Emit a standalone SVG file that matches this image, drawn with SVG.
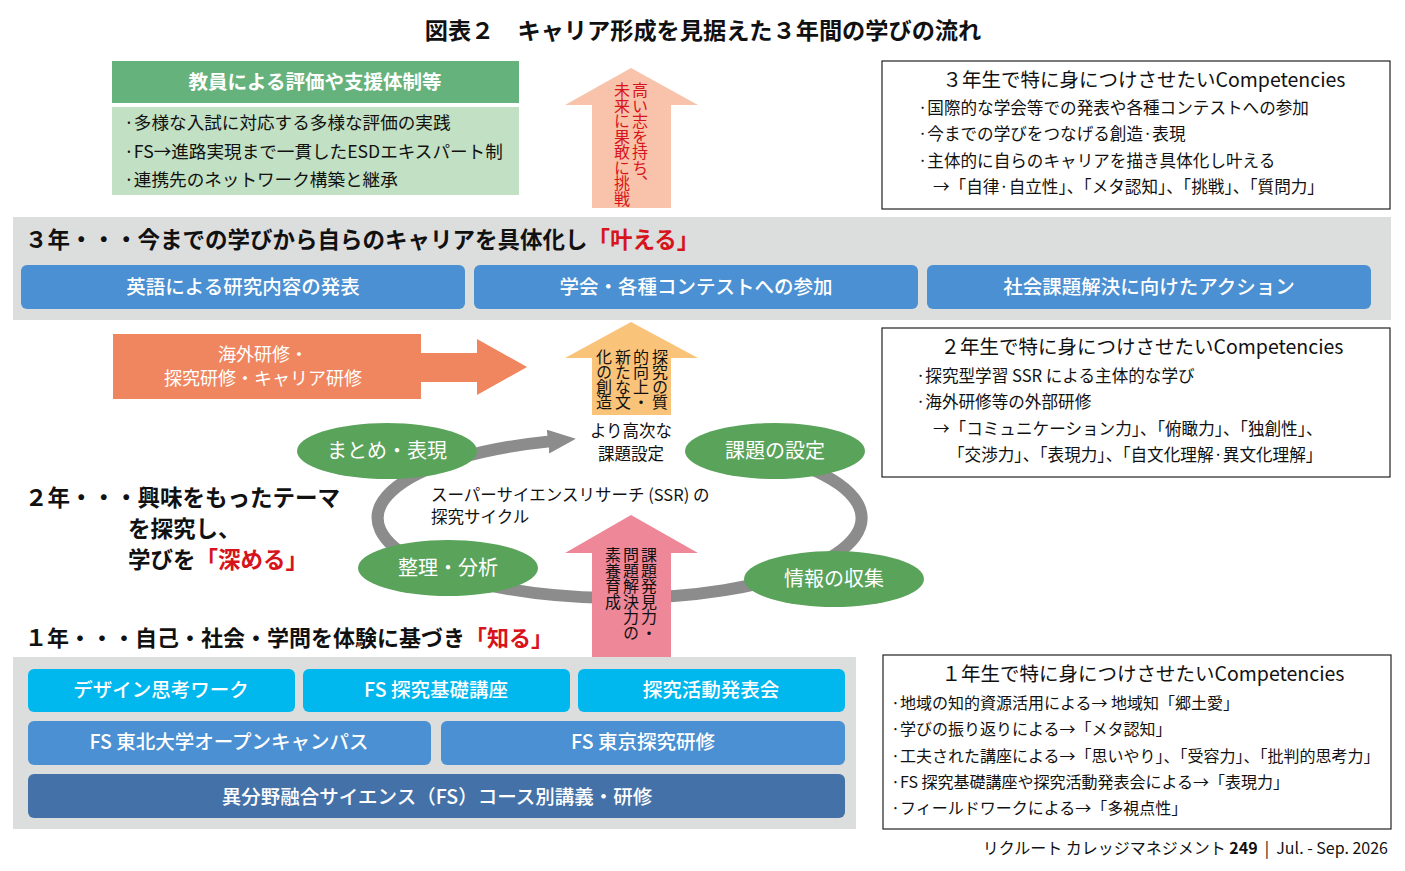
<svg xmlns="http://www.w3.org/2000/svg" width="1405" height="871" viewBox="0 0 1405 871">
<defs>
<style>
text { font-family: "Noto Sans CJK JP", "Noto Sans", sans-serif; fill: #111; }
.w { fill: #fff; }
.red { fill: #d7141c; }
.c { text-anchor: middle; }
.v { writing-mode: vertical-rl; }
.box { fill: #fff; stroke: #222; stroke-width: 1.2; }
.band { fill: #dcdddd; }
.blue { fill: #4a90d2; }
.cyan { fill: #00b7ee; }
.dblue { fill: #4472a8; }
.gell { fill: #5aa35a; }
.h23 { font-size: 22.5px; font-weight: bold; }
.t16 { font-size: 16.6px; }
.t15 { font-size: 16px; }
.t20 { font-size: 19.5px; }
.btn { font-size: 19.5px; font-weight: 500; }
</style>
<marker id="ah" markerUnits="userSpaceOnUse" markerWidth="30" markerHeight="26" refX="2" refY="12" orient="auto">
<path d="M0,0 L28,12 L0,24 z" fill="#8c8c8c"/>
</marker>
</defs>
<rect width="1405" height="871" fill="#fff"/>

<g id="title">
<text x="703" y="39" class="c" style="font-size:23.2px;font-weight:bold">図表２　キャリア形成を見据えた３年間の学びの流れ</text>
</g>

<g id="support">
<rect x="112" y="61" width="407" height="42" fill="#66b27c"/>
<text x="315" y="89" class="c w" style="font-size:19.5px;font-weight:bold">教員による評価や支援体制等</text>
<rect x="112" y="107" width="407" height="88" fill="#c2e0c4"/>
<text x="124" y="129" style="font-size:17.6px">·多様な入試に対応する多様な評価の実践</text>
<text x="124" y="158" style="font-size:17.6px">·FS→進路実現まで一貫したESDエキスパート制</text>
<text x="124" y="186" style="font-size:17.6px">·連携先のネットワーク構築と継承</text>
</g>

<g id="arrow-top">
<polygon points="631,68 698,105 671,105 671,208 592,208 592,105 565,105" fill="#f8c3aa"/>
<text x="640" y="82" class="v red" style="font-size:16px;letter-spacing:-0.5px">高い志を持ち、</text>
<text x="622" y="82" class="v red" style="font-size:16px;letter-spacing:-0.5px">未来に果敢に挑戦</text>
</g>

<g id="comp3">
<rect x="882" y="61" width="508" height="148" class="box"/>
<text x="1144" y="87" class="c t20">３年生で特に身につけさせたいCompetencies</text>
<text x="918" y="114" class="t16">·国際的な学会等での発表や各種コンテストへの参加</text>
<text x="918" y="140" class="t16">·今までの学びをつなげる創造·表現</text>
<text x="918" y="167" class="t16">·主体的に自らのキャリアを描き具体化し叶える</text>
<text x="933" y="193" class="t16">→「自律·自立性」、「メタ認知」、「挑戦」、「質問力」</text>
</g>

<g id="year3">
<rect x="13" y="217" width="1378" height="103" class="band"/>
<text x="25" y="248" class="h23">３年・・・今までの学びから自らのキャリアを具体化し<tspan class="red">「叶える」</tspan></text>
</g>
<g id="y3-b1"><rect x="21" y="265" width="444" height="44" rx="6" class="blue"/><text x="243" y="294" class="c w btn">英語による研究内容の発表</text></g>
<g id="y3-b2"><rect x="474" y="265" width="444" height="44" rx="6" class="blue"/><text x="696" y="294" class="c w btn">学会・各種コンテストへの参加</text></g>
<g id="y3-b3"><rect x="927" y="265" width="444" height="44" rx="6" class="blue"/><text x="1149" y="294" class="c w btn">社会課題解決に向けたアクション</text></g>

<g id="arrow-training">
<polygon points="113,334 421,334 421,353 477,353 477,339 527,367 477,395 477,382 421,382 421,399 113,399" fill="#f0865f"/>
<text x="263" y="361" class="c w" style="font-size:18px">海外研修・</text>
<text x="263" y="385" class="c w" style="font-size:18px">探究研修・キャリア研修</text>
</g>

<g id="arrow-mid">
<polygon points="631,322 698,358 671,358 671,415 592,415 592,358 565,358" fill="#f9c37a"/>
<text x="660" y="349" class="v" style="font-size:16px;letter-spacing:-1px">探究の質</text>
<text x="641" y="349" class="v" style="font-size:16px;letter-spacing:-1px">的向上・</text>
<text x="623" y="349" class="v" style="font-size:16px;letter-spacing:-1px">新たな文</text>
<text x="604" y="349" class="v" style="font-size:16px;letter-spacing:-1px">化の創造</text>
<text x="631" y="437" class="c" style="font-size:16.5px">より高次な</text>
<text x="631" y="460" class="c" style="font-size:16.5px">課題設定</text>
</g>

<g id="comp2">
<rect x="882" y="328" width="508" height="149" class="box"/>
<text x="1142" y="354" class="c t20">２年生で特に身につけさせたいCompetencies</text>
<text x="916" y="382" class="t16">·探究型学習 SSR による主体的な学び</text>
<text x="916" y="408" class="t16">·海外研修等の外部研修</text>
<text x="933" y="435" class="t16">→「コミュニケーション力」、「俯瞰力」、「独創性」、</text>
<text x="948" y="461" class="t16">「交渉力」、「表現力」、「自文化理解·異文化理解」</text>
</g>

<g id="connectors">
<path d="M710,443.8 A242,80 0 1 1 550,441.4" fill="none" stroke="#8c8c8c" stroke-width="12" marker-end="url(#ah)"/>
</g>

<g id="cycle-label">
<text x="431" y="501" style="font-size:16.5px">スーパーサイエンスリサーチ (SSR) の</text>
<text x="431" y="523" style="font-size:16.5px">探究サイクル</text>
</g>

<g id="arrow-low">
<polygon points="631,515 698,553 671,553 671,657 592,657 592,553 565,553" fill="#ee8798"/>
<text x="649" y="547" class="v" style="font-size:16px;letter-spacing:-0.5px">課題発見力・</text>
<text x="631" y="547" class="v" style="font-size:16px;letter-spacing:-0.5px">問題解決力の</text>
<text x="613" y="547" class="v" style="font-size:16px;letter-spacing:-0.5px">素養育成</text>
</g>

<g id="n-matome"><ellipse cx="387" cy="451" rx="90" ry="28" class="gell"/><text x="387" y="458" class="c w" style="font-size:20px">まとめ・表現</text></g>
<g id="n-kadai"><ellipse cx="775" cy="451" rx="90" ry="28" class="gell"/><text x="775" y="458" class="c w" style="font-size:20px">課題の設定</text></g>
<g id="n-seiri"><ellipse cx="448" cy="568" rx="90" ry="28" class="gell"/><text x="448" y="575" class="c w" style="font-size:20px">整理・分析</text></g>
<g id="n-joho"><ellipse cx="834" cy="579" rx="90" ry="28" class="gell"/><text x="834" y="586" class="c w" style="font-size:20px">情報の収集</text></g>

<g id="year2">
<text x="25" y="506" class="h23">２年・・・興味をもったテーマ</text>
<text x="128" y="537" class="h23">を探究し、</text>
<text x="128" y="568" class="h23">学びを<tspan class="red">「深める」</tspan></text>
</g>

<g id="year1">
<text x="25" y="646" class="h23" style="font-size:22px">１年・・・自己・社会・学問を体験に基づき<tspan class="red">「知る」</tspan></text>
<rect x="13" y="657" width="843" height="172" class="band"/>
</g>
<g id="y1-b1"><rect x="28" y="669" width="267" height="43" rx="6" class="cyan"/><text x="161" y="697" class="c w btn">デザイン思考ワーク</text></g>
<g id="y1-b2"><rect x="303" y="669" width="267" height="43" rx="6" class="cyan"/><text x="436" y="697" class="c w btn">FS 探究基礎講座</text></g>
<g id="y1-b3"><rect x="578" y="669" width="267" height="43" rx="6" class="cyan"/><text x="711" y="697" class="c w btn">探究活動発表会</text></g>
<g id="y1-b4"><rect x="28" y="721" width="403" height="44" rx="6" class="blue"/><text x="229" y="749" class="c w btn">FS 東北大学オープンキャンパス</text></g>
<g id="y1-b5"><rect x="441" y="721" width="404" height="44" rx="6" class="blue"/><text x="643" y="749" class="c w btn">FS 東京探究研修</text></g>
<g id="y1-b6"><rect x="28" y="774" width="817" height="44" rx="6" class="dblue"/><text x="437" y="804" class="c w btn">異分野融合サイエンス（FS）コース別講義・研修</text></g>

<g id="comp1">
<rect x="883" y="655" width="508" height="174" class="box"/>
<text x="1143" y="681" class="c t20">１年生で特に身につけさせたいCompetencies</text>
<text x="891" y="709" class="t15">·地域の知的資源活用による→ 地域知「郷土愛」</text>
<text x="891" y="735" class="t15">·学びの振り返りによる→「メタ認知」</text>
<text x="891" y="762" class="t15">·工夫された講座による→「思いやり」、「受容力」、「批判的思考力」</text>
<text x="891" y="788" class="t15">·FS 探究基礎講座や探究活動発表会による→「表現力」</text>
<text x="891" y="814" class="t15">·フィールドワークによる→「多視点性」</text>
</g>

<g id="footer">
<text x="1388" y="854" style="font-size:16px;text-anchor:end">リクルート カレッジマネジメント <tspan style="font-weight:bold">249</tspan>&#160;&#160;|&#160;&#160;Jul. - Sep. 2026</text>
</g>
</svg>
